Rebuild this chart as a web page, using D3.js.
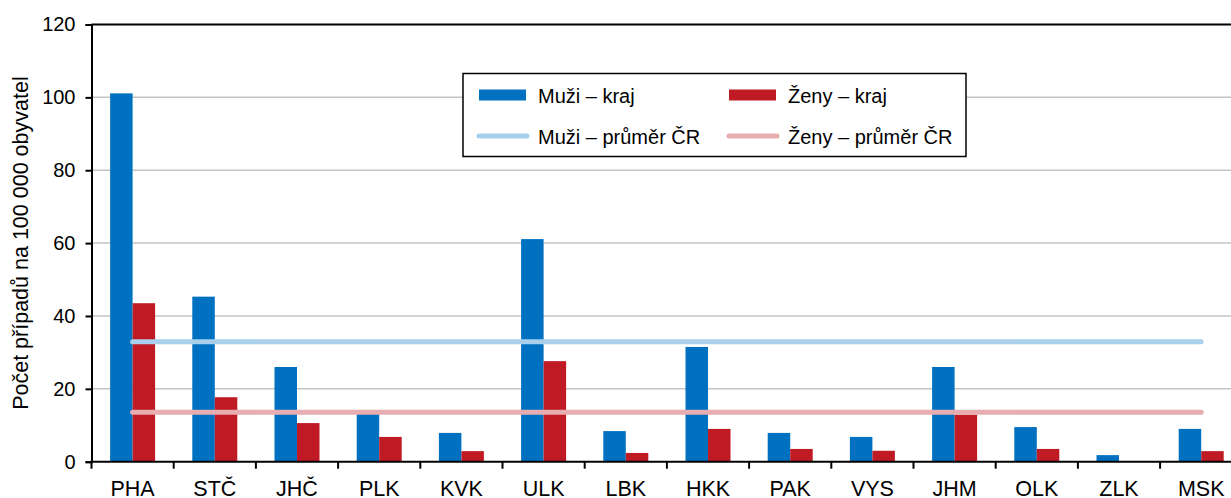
<!DOCTYPE html>
<html>
<head>
<meta charset="utf-8">
<script src="https://cdn.jsdelivr.net/npm/d3@7"></script>
<style>
  body { margin: 0; background: #fff; }
  svg { display: block; font-family: "Liberation Sans", Arial, sans-serif; }
</style>
</head>
<body>
<script>
// data
var kraje = ["PHA", "STČ", "JHČ", "PLK", "KVK", "ULK", "LBK", "HKK", "PAK", "VYS", "JHM", "OLK", "ZLK", "MSK"];
var muzi = [101.1, 45.3, 26.0, 13.4, 7.9, 61.1, 8.4, 31.5, 7.9, 6.8, 26.0, 9.5, 1.8, 9.0];
var zeny = [43.5, 17.7, 10.6, 6.8, 2.9, 27.6, 2.4, 9.0, 3.5, 3.0, 12.9, 3.5, 0, 2.9];
var prumerMuzi = 32.9;
var prumerZeny = 13.6;
var yTicks = [0, 20, 40, 60, 80, 100, 120];

var width = 1231, height = 498;
var mLeft = 91.5, mTop = 24.5, mBottom = 461.7;

var svg = d3.select("body").append("svg")
  .attr("width", width)
  .attr("height", height);

// scales (plot runs past the right edge, like the source crop)
var x = d3.scaleBand().domain(kraje).range([mLeft, mLeft + 82.2 * 14]).paddingInner(0).paddingOuter(0);
var y = d3.scaleLinear().domain([0, 120]).range([mBottom, mTop]);

// grid
svg.append("g")
  .selectAll("line")
  .data(yTicks.filter(function(d){ return d > 0 && d < 120; }))
  .join("line")
  .attr("x1", mLeft).attr("x2", width)
  .attr("y1", function(d){ return y(d); })
  .attr("y2", function(d){ return y(d); })
  .attr("stroke", "#c4c4c4")
  .attr("stroke-width", 1.5);

// top border
svg.append("line")
  .attr("x1", mLeft).attr("x2", width)
  .attr("y1", y(120)).attr("y2", y(120))
  .attr("stroke", "#000").attr("stroke-width", 2);

var barW = 22.5;

// bars - men
svg.append("g")
  .selectAll("rect")
  .data(kraje)
  .join("rect")
  .attr("x", function(d){ return x(d) + x.bandwidth() / 2 - barW; })
  .attr("y", function(d, i){ return y(muzi[i]); })
  .attr("width", barW)
  .attr("height", function(d, i){ return mBottom - y(muzi[i]); })
  .attr("fill", "#0070c0");

// bars - women
svg.append("g")
  .selectAll("rect")
  .data(kraje)
  .join("rect")
  .attr("x", function(d){ return x(d) + x.bandwidth() / 2; })
  .attr("y", function(d, i){ return y(zeny[i]); })
  .attr("width", barW)
  .attr("height", function(d, i){ return mBottom - y(zeny[i]); })
  .attr("fill", "#c01b24");

// national averages
var x0 = x(kraje[0]) + x.bandwidth() / 2;
var x1 = x(kraje[kraje.length - 1]) + x.bandwidth() / 2;
svg.append("line")
  .attr("x1", x0).attr("x2", x1)
  .attr("y1", y(prumerMuzi)).attr("y2", y(prumerMuzi))
  .attr("stroke", "#a8cfec").attr("stroke-width", 5)
  .attr("stroke-linecap", "round");
svg.append("line")
  .attr("x1", x0).attr("x2", x1)
  .attr("y1", y(prumerZeny)).attr("y2", y(prumerZeny))
  .attr("stroke", "#e8adb1").attr("stroke-width", 5)
  .attr("stroke-linecap", "round");

// y axis
var yAxis = svg.append("g")
  .attr("transform", "translate(" + mLeft + ",0)")
  .call(d3.axisLeft(y).tickValues(yTicks).tickSize(6).tickPadding(10));
yAxis.select(".domain").attr("stroke", "#000").attr("stroke-width", 2);
yAxis.selectAll(".tick line").attr("stroke", "#000").attr("stroke-width", 2);
yAxis.selectAll("text").attr("font-size", 20).attr("fill", "#000")
  .attr("font-family", "Liberation Sans, Arial, sans-serif");

// x axis: ticks at band boundaries
var xAxis = svg.append("g")
  .attr("transform", "translate(0," + mBottom + ")");
xAxis.append("line")
  .attr("x1", mLeft - 1).attr("x2", width)
  .attr("stroke", "#000").attr("stroke-width", 2);
xAxis.selectAll(".bt")
  .data(kraje)
  .join("line")
  .attr("class", "bt")
  .attr("x1", function(d){ return x(d); })
  .attr("x2", function(d){ return x(d); })
  .attr("y1", 0).attr("y2", 7)
  .attr("stroke", "#000").attr("stroke-width", 2);
xAxis.selectAll("text")
  .data(kraje)
  .join("text")
  .attr("x", function(d){ return x(d) + x.bandwidth() / 2; })
  .attr("y", 34)
  .attr("text-anchor", "middle")
  .attr("font-size", 21.5)
  .attr("fill", "#000")
  .text(function(d){ return d; });

// y title
svg.append("text")
  .attr("transform", "translate(28," + ((mTop + mBottom) / 2) + ") rotate(-90)")
  .attr("text-anchor", "middle")
  .attr("font-size", 21.5)
  .attr("fill", "#000")
  .text("Počet případů na 100 000 obyvatel");

// legend
var lg = svg.append("g");
lg.append("rect")
  .attr("x", 463).attr("y", 73.5)
  .attr("width", 503).attr("height", 83)
  .attr("fill", "#fff").attr("stroke", "#000").attr("stroke-width", 1.5);

var items = [
  { label: "Muži – kraj", type: "rect", color: "#0070c0", lx: 479, ly: 95 },
  { label: "Ženy – kraj", type: "rect", color: "#c01b24", lx: 729, ly: 95 },
  { label: "Muži – průměr ČR", type: "line", color: "#a8cfec", lx: 479, ly: 136 },
  { label: "Ženy – průměr ČR", type: "line", color: "#e8adb1", lx: 729, ly: 136 }
];
items.forEach(function(it){
  if (it.type == "rect") {
    lg.append("rect")
      .attr("x", it.lx).attr("y", it.ly - 5.5)
      .attr("width", 47).attr("height", 11)
      .attr("fill", it.color);
  } else {
    lg.append("line")
      .attr("x1", it.lx).attr("x2", it.lx + 48)
      .attr("y1", it.ly).attr("y2", it.ly)
      .attr("stroke", it.color).attr("stroke-width", 5)
      .attr("stroke-linecap", "round");
  }
  lg.append("text")
    .attr("x", it.lx + 59)
    .attr("y", it.ly + 7.5)
    .attr("font-size", 20)
    .attr("fill", "#000")
    .text(it.label);
});
</script>
</body>
</html>
